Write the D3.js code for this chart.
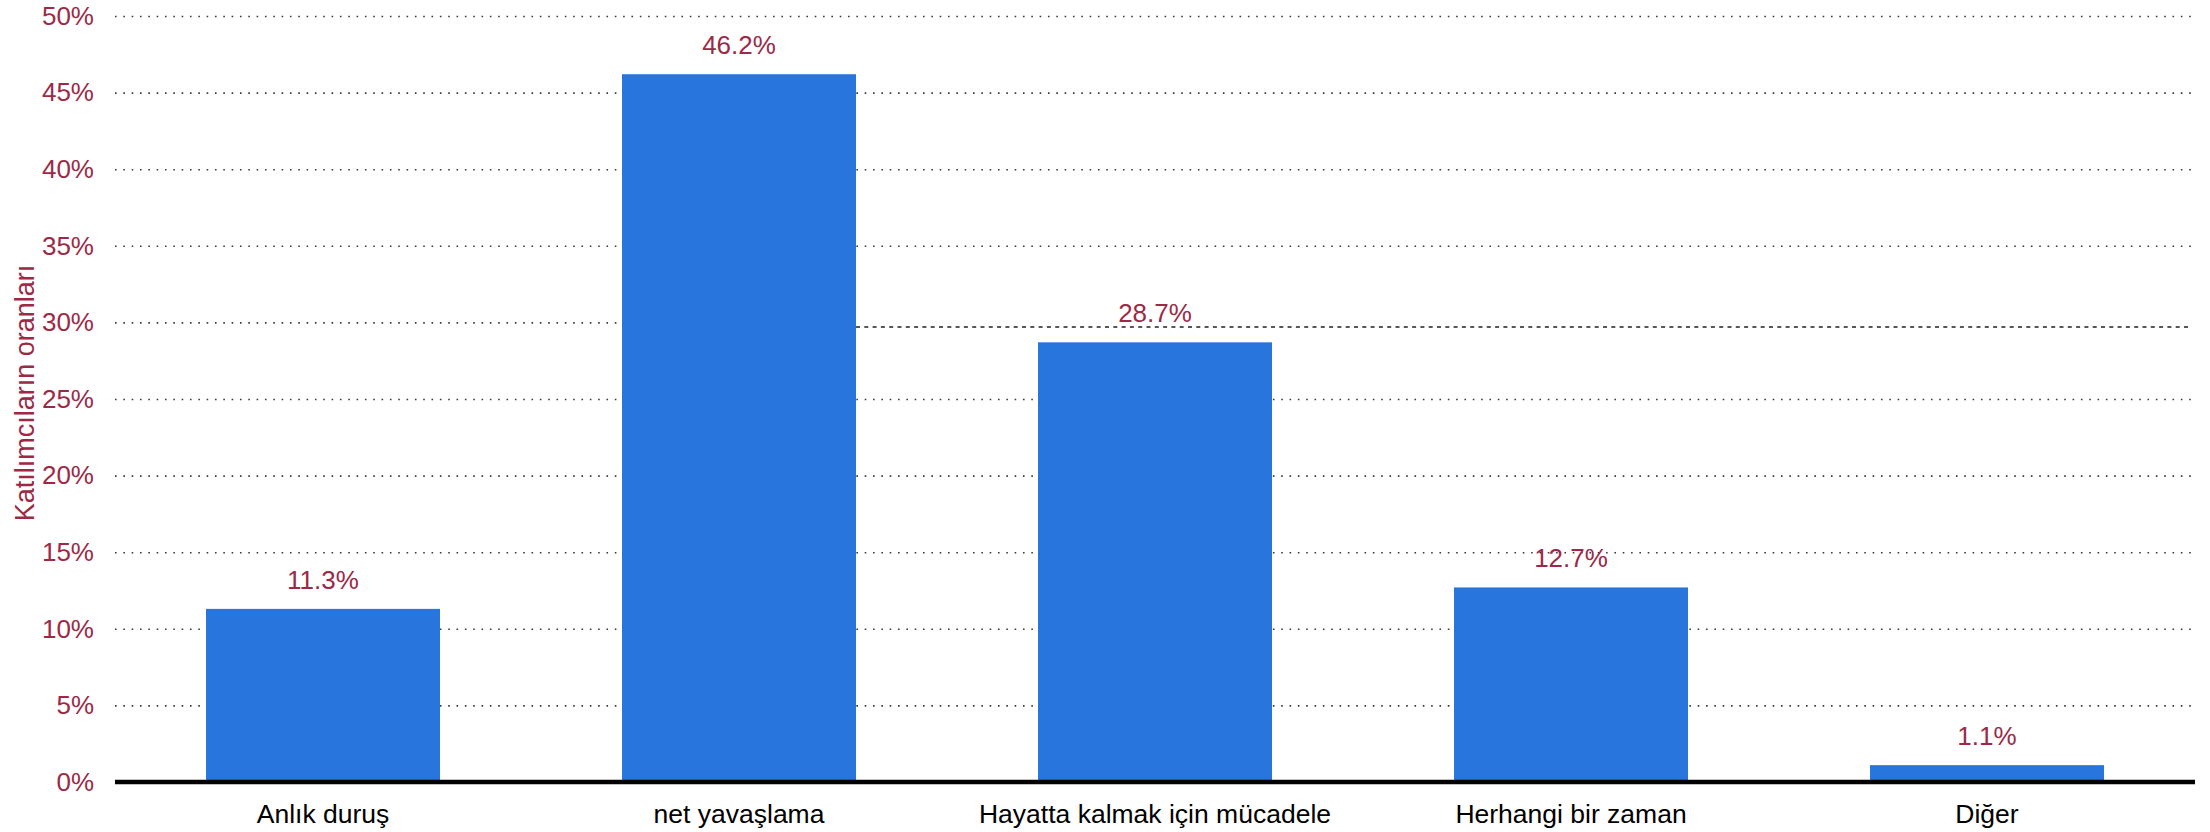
<!DOCTYPE html>
<html>
<head>
<meta charset="utf-8">
<script src="https://cdn.jsdelivr.net/npm/d3@7"></script>
<style>
  html, body { margin: 0; padding: 0; background: #fff; }
  svg { display: block; font-family: "Liberation Sans", Arial, sans-serif; }
</style>
</head>
<body>
<svg id="chart" width="2210" height="832"></svg>
<script>
const categories = ["Anlık duruş", "net yavaşlama", "Hayatta kalmak için mücadele", "Herhangi bir zaman", "Diğer"];
const values = [11.3, 46.2, 28.7, 12.7, 1.1];
const yTicks = [0, 5, 10, 15, 20, 25, 30, 35, 40, 45, 50];
const referenceValue = [29.7];
const referenceStartCategory = ["net yavaşlama"];
const yAxisTitle = "Katılımcıların oranları";

const W = 2210, H = 832;
const margin = { left: 115, right: 15, top: 16, bottom: 50 };
const svg = d3.select("#chart");

const x = d3.scaleBand()
  .domain(categories)
  .range([margin.left, W - margin.right])
  .paddingInner(0.4375)
  .paddingOuter(0.21875);

const y = d3.scaleLinear()
  .domain([0, 50])
  .range([H - margin.bottom, margin.top]);

const red = "#9c2a46";
const blue = "#2876dd";
const refStartX = x(referenceStartCategory[0]) + x.bandwidth();

// gridlines (the one next to the reference line stops where the reference line begins)
svg.append("g")
  .selectAll("line")
  .data(yTicks.filter(d => d > 0))
  .join("line")
  .attr("x1", margin.left)
  .attr("x2", d => Math.abs(d - referenceValue[0]) < 1 ? refStartX : W - margin.right)
  .attr("y1", d => y(d) + 0.5)
  .attr("y2", d => y(d) + 0.5)
  .attr("stroke", "#3a3a3a")
  .attr("stroke-width", 1.6)
  .attr("stroke-dasharray", "1.6,6.73");

// reference dashed line
svg.append("g")
  .selectAll("line")
  .data(referenceValue)
  .join("line")
  .attr("x1", refStartX)
  .attr("x2", W - margin.right - 3)
  .attr("y1", d => y(d))
  .attr("y2", d => y(d))
  .attr("stroke", "#222")
  .attr("stroke-width", 1.5)
  .attr("stroke-dasharray", "4,4.3");

// y tick labels
const yAxis = d3.axisLeft(y)
  .tickValues(yTicks)
  .tickFormat(d => d + "%")
  .tickSize(0)
  .tickPadding(0);
const gy = svg.append("g")
  .attr("transform", `translate(94,0)`)
  .call(yAxis);
gy.select(".domain").remove();
gy.selectAll("text")
  .attr("fill", red)
  .attr("font-size", 26)
  .attr("font-family", "Liberation Sans, Arial, sans-serif");

// bars
svg.append("g")
  .selectAll("rect")
  .data(values)
  .join("rect")
  .attr("x", (d, i) => x(categories[i]))
  .attr("width", x.bandwidth())
  .attr("y", d => y(d))
  .attr("height", d => y(0) - y(d))
  .attr("fill", blue);

// value labels
svg.append("g")
  .selectAll("text")
  .data(values)
  .join("text")
  .attr("x", (d, i) => x(categories[i]) + x.bandwidth() / 2)
  .attr("y", d => y(d) - 20)
  .attr("text-anchor", "middle")
  .attr("fill", red)
  .attr("font-size", 26)
  .text(d => d.toFixed(1) + "%");

// baseline
svg.append("line")
  .attr("x1", margin.left)
  .attr("x2", W - margin.right)
  .attr("y1", y(0))
  .attr("y2", y(0))
  .attr("stroke", "#000")
  .attr("stroke-width", 4.5);

// x axis labels
const xAxis = d3.axisBottom(x).tickSize(0).tickPadding(0);
const gx = svg.append("g")
  .attr("transform", `translate(0,${y(0)})`)
  .call(xAxis);
gx.select(".domain").remove();
gx.selectAll("text")
  .attr("dy", null)
  .attr("y", 41)
  .attr("fill", "#000")
  .attr("font-size", 26.5)
  .attr("font-family", "Liberation Sans, Arial, sans-serif");

// y axis title
svg.append("text")
  .attr("transform", `translate(34,${(y(0) + y(50)) / 2 - 6}) rotate(-90)`)
  .attr("text-anchor", "middle")
  .attr("fill", red)
  .attr("font-size", 27)
  .text(yAxisTitle);
</script>
</body>
</html>
